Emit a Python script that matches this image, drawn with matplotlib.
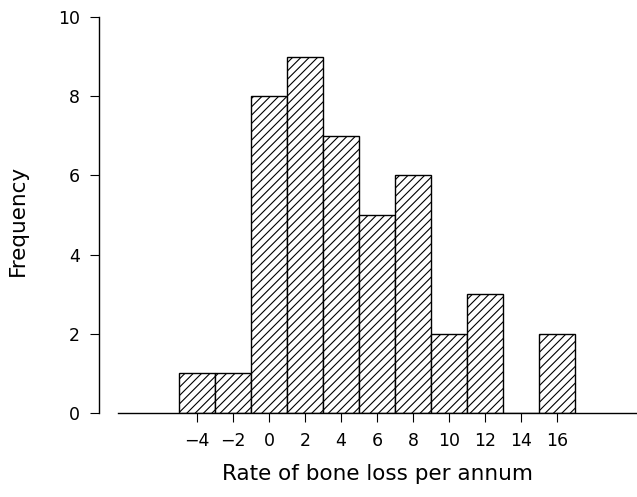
import matplotlib
matplotlib.use("Agg")
from matplotlib import pyplot as plt

# bone loss histogram, bins 2 units wide centred on the tick values
bin_centres = [-4, -2, 0, 2, 4, 6, 8, 10, 12, 14, 16]
frequency = [1, 1, 8, 9, 7, 5, 6, 2, 3, 0, 2]
y_ticks = [0, 2, 4, 6, 8, 10]

plt.rcParams['font.family'] = ['DejaVu Sans']
plt.rcParams['hatch.linewidth'] = 0.8


def plot_histogram():
    fig = plt.figure(figsize=(6.37, 4.97), dpi=100)
    ax = fig.add_axes([99 / 637, 84 / 497, 538 / 637, 396 / 497])

    ax.bar(bin_centres, frequency, width=2, align='center',
           facecolor='white', edgecolor='black', linewidth=1.0, hatch='////')

    ax.set_xlim(-9.44, 20.44)
    ax.set_ylim(0, 10)

    for side in ('top', 'right'):
        ax.spines[side].set_visible(False)
    ax.spines['left'].set_bounds(0, 10)
    ax.spines['bottom'].set_bounds(-8.39, 20.44)
    ax.spines['left'].set_linewidth(1.0)
    ax.spines['bottom'].set_linewidth(1.0)

    ax.set_xticks(bin_centres)
    ax.set_xticklabels([f"\u2212{abs(v)}" if v < 0 else str(v) for v in bin_centres])
    ax.set_yticks(y_ticks)
    ax.tick_params(axis='both', direction='out', length=6.5, width=0.8,
                   labelsize=12.5, colors='black')
    ax.tick_params(axis='x', pad=7)
    ax.tick_params(axis='y', pad=7)

    ax.set_xlabel("Rate of bone loss per annum", fontsize=15.5)
    ax.set_ylabel("Frequency", fontsize=15.5)
    ax.xaxis.set_label_coords(0.517, -0.13)
    ax.yaxis.set_label_coords(-0.132, 0.487)

    fig.savefig("out.png", dpi=100)


if __name__ == "__main__":
    plot_histogram()
